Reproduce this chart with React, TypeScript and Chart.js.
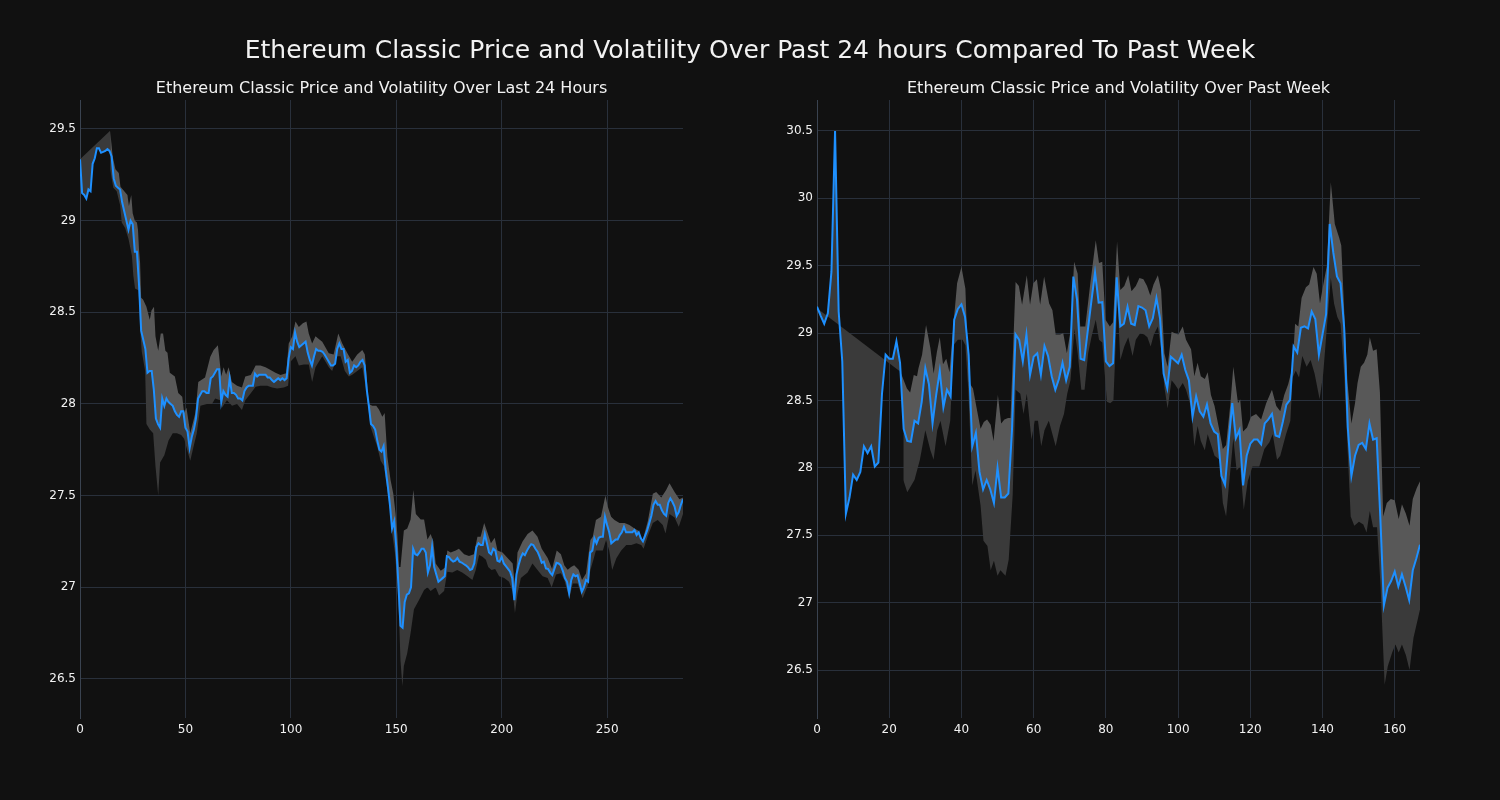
import React, { useEffect, useRef } from 'react';
import { Chart, registerables } from 'chart.js';

Chart.register(...registerables);

// ---------- Data: last 24 hours (5-minute steps) ----------
const price24 = [
  29.335, 29.15, 29.14, 29.12, 29.17, 29.16, 29.31, 29.34, 29.395, 29.395,
  29.37, 29.375, 29.38, 29.39, 29.38, 29.35, 29.23, 29.19, 29.18, 29.17,
  29.10, 29.05, 29.00, 28.95, 29.00, 28.98, 28.83, 28.83, 28.65, 28.40,
  28.35, 28.30, 28.17, 28.18, 28.18, 28.08, 27.92, 27.89, 27.87, 28.03,
  27.99, 28.03, 28.01, 28.00, 27.99, 27.96, 27.94, 27.93, 27.96, 27.96,
  27.87, 27.85, 27.76, 27.82, 27.86, 27.92, 28.03, 28.05, 28.07, 28.07,
  28.06, 28.06, 28.14, 28.15, 28.17, 28.19, 28.19, 28.01, 28.07, 28.05,
  28.04, 28.14, 28.06, 28.06, 28.05, 28.03, 28.03, 28.02, 28.07, 28.09,
  28.10, 28.10, 28.10, 28.165, 28.15, 28.16, 28.16, 28.16, 28.16, 28.145,
  28.145, 28.13, 28.12, 28.13, 28.14, 28.13, 28.14, 28.13, 28.14, 28.25,
  28.31, 28.30, 28.39, 28.34, 28.31, 28.32, 28.33, 28.34, 28.28, 28.24,
  28.21, 28.26, 28.30, 28.29, 28.29, 28.285, 28.27, 28.25, 28.23, 28.21,
  28.21, 28.22, 28.30, 28.33, 28.30, 28.30, 28.23, 28.24, 28.17, 28.18,
  28.21, 28.20, 28.21, 28.23, 28.24, 28.21, 28.08, 27.99, 27.89, 27.88,
  27.86, 27.80, 27.75, 27.74, 27.77, 27.64, 27.55, 27.45, 27.32, 27.36,
  27.22, 27.02, 26.79, 26.78, 26.92, 26.96, 26.967, 27.00, 27.21, 27.18,
  27.175, 27.19, 27.21, 27.21, 27.19, 27.08, 27.12, 27.22, 27.11, 27.07,
  27.03, 27.04, 27.05, 27.06, 27.17, 27.165, 27.15, 27.14, 27.145, 27.16,
  27.14, 27.135, 27.127, 27.12, 27.11, 27.094, 27.10, 27.13, 27.22, 27.24,
  27.23, 27.23, 27.29, 27.24, 27.19, 27.18, 27.21, 27.20, 27.145, 27.14,
  27.165, 27.13, 27.115, 27.10, 27.085, 27.05, 26.93, 27.07, 27.12, 27.16,
  27.185, 27.175, 27.20, 27.22, 27.235, 27.23, 27.21, 27.194, 27.167, 27.134,
  27.14, 27.103, 27.10, 27.08, 27.067, 27.10, 27.134, 27.13, 27.12, 27.09,
  27.05, 27.03, 26.967, 27.04, 27.07, 27.06, 27.065, 27.02, 26.975, 27.00,
  27.04, 27.03, 27.19, 27.20, 27.267, 27.24, 27.27, 27.275, 27.275, 27.385,
  27.34, 27.30, 27.24, 27.25, 27.26, 27.26, 27.285, 27.30, 27.33, 27.30,
  27.30, 27.30, 27.30, 27.312, 27.285, 27.30, 27.267, 27.25, 27.28, 27.31,
  27.35, 27.39, 27.45, 27.47, 27.45, 27.45, 27.42, 27.40, 27.39, 27.46,
  27.485, 27.465, 27.44, 27.39, 27.41, 27.45, 27.48,
];

// volatility band edges as [index, value]
const upper24: [number, number][] = [
  [0, 29.335], [14.3, 29.49], [15.5, 29.35], [16.8, 29.28], [18.4, 29.26], [19.2, 29.185],
  [21.2, 29.158], [22.5, 29.14], [23.2, 29.08], [24.3, 29.14], [25, 29.04], [26, 29.0],
  [27, 28.99], [27.5, 28.95], [28, 28.84], [28.5, 28.77], [29, 28.58], [29.9, 28.57],
  [31.5, 28.53], [33.1, 28.46], [33.9, 28.51], [35.1, 28.53], [35.8, 28.37], [37.1, 28.29],
  [38.3, 28.385], [39.4, 28.385], [40.5, 28.29], [41.5, 28.28], [42.6, 28.17], [45, 28.15],
  [46.6, 28.06], [48.5, 28.04], [49.4, 27.95], [50.5, 27.98], [52.3, 27.84], [54.7, 27.95],
  [56.1, 28.12], [59.3, 28.145], [61.8, 28.258], [63.4, 28.294], [65.4, 28.32], [66, 28.26],
  [67, 28.15], [68.1, 28.2], [69.3, 28.16], [70.5, 28.2], [72, 28.12], [74.5, 28.1],
  [76.8, 28.09], [78.4, 28.15], [81, 28.158], [83.3, 28.21], [85.6, 28.21], [88, 28.2],
  [90.4, 28.185], [92.7, 28.17], [95.1, 28.158], [97.8, 28.167], [99, 28.33], [100.6, 28.367],
  [102.2, 28.45], [103.8, 28.42], [105.7, 28.44], [107.4, 28.45], [108.5, 28.385], [110.1, 28.33],
  [111.7, 28.37], [113.7, 28.35], [114.9, 28.34], [118, 28.276], [120.3, 28.27], [122.5, 28.385],
  [124.4, 28.33], [126.7, 28.28], [129.1, 28.23], [131.5, 28.27], [133.9, 28.294], [135.1, 28.27],
  [137, 28.0], [138.6, 27.99], [140.5, 27.99], [141.8, 27.97], [143.4, 27.93], [144.5, 27.95],
  [145.8, 27.71], [147.3, 27.585], [148.6, 27.51], [149.7, 27.40], [150.5, 27.29], [151.3, 27.11],
  [152, 27.11], [153.6, 27.31], [155.2, 27.32], [156.8, 27.37], [158.1, 27.53], [159.3, 27.40],
  [161.6, 27.37], [163.2, 27.37], [164.8, 27.26], [166.3, 27.29], [167.6, 27.25], [168.7, 27.13],
  [171.1, 27.09], [173.5, 27.11], [174.2, 27.2], [175.8, 27.19], [178.2, 27.2], [179.7, 27.21],
  [182.2, 27.18], [184.5, 27.17], [186.8, 27.18], [188.5, 27.276], [190, 27.276], [191.7, 27.35],
  [193.2, 27.30], [194.9, 27.24], [196.7, 27.27], [198, 27.2], [200.4, 27.19], [202.8, 27.16],
  [205.2, 27.13], [206.4, 27.0], [207.5, 27.19], [209.9, 27.25], [212.3, 27.29], [214.6, 27.31],
  [217, 27.276], [219, 27.21], [221.8, 27.16], [223.9, 27.10], [226.1, 27.2], [228.1, 27.18],
  [229.7, 27.12], [231.3, 27.095], [232.9, 27.11], [234.4, 27.12], [236.5, 27.095], [238.1, 27.04],
  [240, 27.075], [242.1, 27.258], [243.2, 27.276], [244.7, 27.367], [247.1, 27.385], [249.2, 27.50],
  [250.3, 27.44], [251.9, 27.385], [253.5, 27.367], [255.9, 27.35], [258.3, 27.35], [260.6, 27.34],
  [263, 27.32], [264.6, 27.31], [266.9, 27.258], [269.3, 27.36], [271.7, 27.51], [273.3, 27.52],
  [275.7, 27.49], [278, 27.53], [279.6, 27.567], [282, 27.52], [284.3, 27.48], [286, 27.49],
];

const lower24: [number, number][] = [
  [14.3, 29.28], [15.8, 29.18], [17.4, 29.16], [19, 29.085], [19.8, 28.99], [21.4, 28.96],
  [23, 28.90], [24.6, 28.81], [25.3, 28.70], [26.1, 28.63], [27.7, 28.62], [28.2, 28.52],
  [28.5, 28.41], [29.3, 28.285], [30.9, 28.18], [31.5, 27.89], [33.1, 27.86], [34.7, 27.84],
  [35.8, 27.66], [37.1, 27.50], [38, 27.68], [40, 27.72], [42, 27.80], [44, 27.84],
  [46, 27.84], [48, 27.83], [49.4, 27.81], [51.3, 27.73], [52.3, 27.69], [53.7, 27.76],
  [55.4, 27.84], [57.1, 27.99], [60.2, 28.0], [62.6, 28.0], [64.1, 28.03], [66.5, 28.02],
  [67.3, 27.98], [69.7, 28.02], [72.1, 27.99], [74.5, 28.0], [76.8, 27.967], [78.4, 28.02],
  [81, 28.058], [83.3, 28.094], [85.6, 28.10], [88.8, 28.10], [91.1, 28.09], [93.5, 28.085],
  [96.7, 28.09], [98.7, 28.10], [99.8, 28.23], [102.2, 28.26], [103.8, 28.21], [106.2, 28.215],
  [108.5, 28.215], [110.1, 28.12], [111.7, 28.2], [114.9, 28.26], [118, 28.20], [119.6, 28.18],
  [122, 28.26], [123.6, 28.26], [125.6, 28.18], [127.5, 28.15], [129.1, 28.16], [131.5, 28.18],
  [133.9, 28.2], [135.5, 28.094], [137.8, 27.876], [139.4, 27.82], [141, 27.767], [142.6, 27.69],
  [144.2, 27.66], [145.3, 27.567], [146.9, 27.44], [148.1, 27.29], [149.4, 27.185], [150.5, 27.02],
  [151.3, 26.84], [152, 26.60], [152.9, 26.46], [153.6, 26.57], [155.2, 26.64], [156.8, 26.75],
  [158.4, 26.88], [160.8, 26.93], [163.2, 26.985], [164.8, 27.0], [166.3, 26.98], [168.7, 27.0],
  [170.3, 26.955], [172.7, 26.98], [174.2, 27.085], [176.6, 27.08], [178.9, 27.094], [181.3, 27.08],
  [183.8, 27.06], [186.1, 27.04], [187.7, 27.094], [189.3, 27.176], [190.9, 27.167], [192.5, 27.15],
  [193.6, 27.11], [195.2, 27.094], [196.9, 27.1], [198.8, 27.06], [201.2, 27.05], [203.5, 27.03],
  [205.2, 26.976], [206.3, 26.86], [207.5, 26.965], [209.1, 27.05], [212.3, 27.08], [214.6, 27.13],
  [217, 27.094], [219.4, 27.06], [221.8, 27.05], [223.7, 27.0], [225.8, 27.07], [228.1, 27.076],
  [229.7, 27.04], [232.1, 26.94], [233.7, 27.02], [236, 27.02], [238.4, 26.94], [240.8, 27.01],
  [242.1, 27.094], [243.5, 27.15], [244.7, 27.20], [248, 27.20], [249.5, 27.258], [251, 27.2],
  [252.4, 27.094], [254.4, 27.158], [256.7, 27.2], [259.1, 27.23], [261.5, 27.23], [263.9, 27.24],
  [266.2, 27.23], [267.3, 27.21], [269.3, 27.28], [271.7, 27.35], [274, 27.367], [276.4, 27.34],
  [277.7, 27.294], [279.6, 27.40], [282, 27.38], [284, 27.33], [286, 27.40],
];

const xTicks24 = [0, 50, 100, 150, 200, 250];
const xTickLabels24 = ['0', '50', '100', '150', '200', '250'];
const yTicks24 = [26.5, 27, 27.5, 28, 28.5, 29, 29.5];
const yTickLabels24 = ['26.5', '27', '27.5', '28', '28.5', '29', '29.5'];

// ---------- Data: past week (hourly steps) ----------
const price7 = [
  29.196, 29.13, 29.07, 29.147, 29.456, 30.5, 29.16, 28.79, 27.66, 27.78,
  27.95, 27.91, 27.97, 28.16, 28.11, 28.16, 28.01, 28.04, 28.55, 28.84,
  28.81, 28.81, 28.94, 28.78, 28.29, 28.20, 28.194, 28.35, 28.33, 28.49,
  28.74, 28.62, 28.33, 28.54, 28.72, 28.45, 28.58, 28.53, 29.10, 29.18,
  29.214, 29.12, 28.84, 28.16, 28.26, 27.97, 27.84, 27.91, 27.84, 27.74,
  28.0, 27.78, 27.78, 27.81, 28.28, 28.99, 28.95, 28.79, 28.99, 28.69,
  28.825, 28.85, 28.69, 28.905, 28.83, 28.68, 28.58, 28.66, 28.78, 28.65,
  28.75, 29.42, 29.25, 28.81, 28.80, 29.02, 29.24, 29.45, 29.226, 29.23,
  28.79, 28.756, 28.776, 29.414, 29.05, 29.07, 29.196, 29.07, 29.06, 29.20,
  29.19, 29.17, 29.05, 29.11, 29.26, 29.11, 28.70, 28.59, 28.825, 28.80,
  28.776, 28.84, 28.726, 28.65, 28.38, 28.53, 28.42, 28.38, 28.47, 28.33,
  28.27, 28.25, 27.94, 27.875, 28.19, 28.48, 28.22, 28.28, 27.87, 28.09,
  28.18, 28.21, 28.21, 28.175, 28.33, 28.36, 28.40, 28.24, 28.23, 28.34,
  28.47, 28.505, 28.90, 28.855, 29.04, 29.05, 29.035, 29.16, 29.105, 28.84,
  28.99, 29.14, 29.81, 29.595, 29.42, 29.37, 29.04, 28.30, 27.94, 28.09,
  28.17, 28.185, 28.14, 28.33, 28.21, 28.22, 27.64, 26.98, 27.11, 27.16,
  27.23, 27.12, 27.21, 27.12, 27.02, 27.24, 27.33, 27.43,
];

const upper7: [number, number][] = [
  [0, 29.184], [23.1, 28.714], [24.9, 28.59], [25.8, 28.56], [26.8, 28.69], [27.7, 28.68],
  [28.1, 28.74], [29.1, 28.84], [30.2, 29.06], [31.4, 28.89], [32.3, 28.70], [33.2, 28.86],
  [34, 28.97], [34.9, 28.77], [35.8, 28.81], [36.7, 28.71], [37.7, 29.036], [38.8, 29.37],
  [40, 29.49], [41.1, 29.33], [42, 28.64], [43.2, 28.59], [44.1, 28.46], [45.3, 28.29],
  [46.2, 28.34], [47.1, 28.36], [48.1, 28.32], [48.9, 28.2], [50.1, 28.54], [51, 28.33],
  [51.9, 28.36], [52.9, 28.37], [53.6, 28.37], [55, 29.38], [55.9, 29.35], [56.8, 29.21],
  [58.1, 29.43], [59, 29.21], [59.9, 29.37], [60.9, 29.40], [61.8, 29.21], [62.9, 29.42],
  [64.3, 29.22], [65.2, 29.17], [66.1, 28.99], [67.3, 28.99], [68.2, 29.0], [69.2, 28.85],
  [70.3, 29.03], [71.2, 29.53], [72.2, 29.44], [72.9, 29.05], [74.3, 29.05], [75.7, 29.37],
  [77.2, 29.69], [78.1, 29.52], [79, 29.53], [79.9, 29.10], [81.1, 29.05], [82, 29.08],
  [83.1, 29.68], [84, 29.32], [85.1, 29.35], [86.2, 29.43], [87.1, 29.31], [88.3, 29.35],
  [89.3, 29.41], [90.4, 29.40], [91.4, 29.35], [92.3, 29.28], [93.2, 29.36], [94.4, 29.43],
  [95.3, 29.32], [96.2, 28.85], [97.1, 28.75], [98.2, 29.01], [99.1, 29.0], [100.1, 28.99],
  [101.3, 29.05], [102.2, 28.95], [103.6, 28.88], [104.5, 28.68], [105.4, 28.78], [106.3, 28.68],
  [107.4, 28.66], [108.2, 28.71], [109.1, 28.54], [110.1, 28.46], [111.5, 28.27], [112.4, 28.14],
  [113.3, 28.17], [114.5, 28.48], [115.3, 28.75], [116.6, 28.48], [117.2, 28.51], [118, 28.27],
  [119.1, 28.30], [120.2, 28.38], [121.6, 28.40], [123, 28.36], [124.4, 28.48], [126, 28.58],
  [127.2, 28.46], [128.3, 28.42], [129.4, 28.54], [130.5, 28.62], [131.7, 28.75], [132.4, 29.07],
  [133.3, 29.05], [134.2, 29.26], [135.4, 29.34], [136.3, 29.36], [137.5, 29.49], [138.4, 29.44],
  [139.3, 29.22], [140, 29.33], [141.2, 29.50], [142.3, 30.12], [143.4, 29.81], [144.6, 29.71],
  [145.2, 29.65], [146, 29.17], [146.9, 28.64], [148, 28.33], [149, 28.48], [149.7, 28.63],
  [150.6, 28.75], [151.5, 28.78], [152.4, 28.84], [153.1, 28.97], [154, 28.87], [155, 28.88],
  [155.9, 28.56], [156.8, 27.64], [157.8, 27.74], [158.9, 27.77], [160, 27.76], [161.1, 27.62],
  [162, 27.73], [163.1, 27.66], [164.1, 27.57], [165, 27.77], [166.1, 27.85], [167, 27.90],
];

const lower7: [number, number][] = [
  [23.9, 27.91], [25, 27.82], [27, 27.91], [28.5, 28.06], [30, 28.28], [31.4, 28.13],
  [32.3, 28.06], [33.3, 28.28], [34.2, 28.35], [35.6, 28.16], [36.9, 28.35], [37.8, 28.91],
  [39, 28.95], [40.3, 28.95], [41.1, 28.91], [41.9, 28.58], [43, 27.87], [43.9, 27.98],
  [45.3, 27.72], [46.1, 27.46], [47.2, 27.42], [48.1, 27.24], [49, 27.31], [50, 27.20],
  [50.8, 27.24], [52.2, 27.20], [53.1, 27.32], [54.2, 27.80], [55, 28.58], [56.3, 28.55],
  [57.2, 28.40], [58.1, 28.55], [59.4, 28.21], [60.3, 28.35], [61.2, 28.35], [62.1, 28.16],
  [63, 28.28], [64.2, 28.35], [65.2, 28.25], [66.1, 28.16], [67.3, 28.31], [68.4, 28.40],
  [69.3, 28.55], [70.2, 28.65], [71.3, 29.03], [72.2, 28.85], [73.2, 28.58], [74.1, 28.58],
  [75.1, 28.85], [76, 28.97], [77.2, 29.1], [78.1, 28.95], [79, 28.93], [80.3, 28.49],
  [81.2, 28.48], [82.1, 28.50], [83.2, 29.25], [84, 28.80], [85.1, 28.90], [86.2, 28.97],
  [87.4, 28.83], [88.3, 28.95], [89.5, 29.0], [90.6, 28.99], [91.5, 28.97], [92.4, 28.90],
  [93.3, 28.99], [94.4, 29.05], [95.3, 28.88], [96.2, 28.60], [97.1, 28.44], [98.2, 28.65],
  [99.1, 28.62], [100.1, 28.58], [101.3, 28.63], [102.2, 28.58], [103.6, 28.45], [104.5, 28.16],
  [105.4, 28.31], [106.3, 28.20], [107.4, 28.13], [108.2, 28.25], [110.1, 28.09], [111.5, 28.06],
  [112.4, 27.74], [113.3, 27.64], [114.2, 27.90], [115.3, 28.22], [116.2, 27.98], [117.2, 28.01],
  [118.2, 27.69], [119.3, 27.90], [120.6, 28.01], [122.5, 28.01], [123.9, 28.14], [125.3, 28.19],
  [126.2, 28.25], [127.4, 28.06], [128.3, 28.09], [129.9, 28.25], [131.1, 28.35], [131.7, 28.67],
  [132.6, 28.72], [133.5, 28.67], [134.4, 28.83], [135.6, 28.75], [136.7, 28.80], [137.8, 28.70],
  [139.2, 28.51], [140.2, 28.70], [141.2, 29.04], [142.3, 29.41], [143.2, 29.22], [144.1, 29.12],
  [145, 29.07], [146, 28.70], [146.9, 28.17], [147.8, 27.64], [148.8, 27.57], [150.1, 27.60],
  [151.3, 27.58], [152.2, 27.52], [153.1, 27.68], [154, 27.56], [155.1, 27.56], [156.1, 27.11],
  [157.2, 26.39], [158.1, 26.53], [159.3, 26.63], [160.2, 26.69], [161.1, 26.63], [162, 26.69],
  [163.1, 26.61], [164.1, 26.50], [165.2, 26.74], [167, 26.95],
];

const xTicks7 = [0, 20, 40, 60, 80, 100, 120, 140, 160];
const xTickLabels7 = ['0', '20', '40', '60', '80', '100', '120', '140', '160'];
const yTicks7 = [26.5, 27, 27.5, 28, 28.5, 29, 29.5, 30, 30.5];
const yTickLabels7 = ['26.5', '27', '27.5', '28', '28.5', '29', '29.5', '30', '30.5'];

const suptitle = 'Ethereum Classic Price and Volatility Over Past 24 hours Compared To Past Week';
const title24 = 'Ethereum Classic Price and Volatility Over Last 24 Hours';
const title7 = 'Ethereum Classic Price and Volatility Over Past Week';

// ---------- Styles ----------
const BG = '#111111';
const GRID = '#29303b';
const SPINE = '#3a4350';
const TEXT = '#f2f2f2';
const BLUE = '#1e90ff';
const BAND_LIGHT = '#585858';
const BAND_DARK = '#3a3a3a';
const FONT = '"DejaVu Sans", sans-serif';

type PanelProps = {
  price: number[];
  upper: [number, number][];
  lower: [number, number][];
  xTicks: number[];
  xLabels: string[];
  yTicks: number[];
  yLabels: string[];
  xMax: number;
  yMin: number;
  yMax: number;
  yAxisWidth: number;
  padRight: number;
  left: number;
};

function Panel(p: PanelProps) {
  const ref = useRef<HTMLCanvasElement>(null);
  useEffect(() => {
    const toPts = (arr: [number, number][]) => arr.map(([x, y]) => ({ x, y }));
    const bandBase = {
      borderWidth: 0,
      borderColor: 'rgba(0,0,0,0)',
      pointRadius: 0,
      pointHitRadius: 0,
    };
    const chart = new Chart(ref.current as HTMLCanvasElement, {
      type: 'line',
      data: {
        datasets: [
          {
            data: p.price.map((y, i) => ({ x: i, y })),
            borderColor: BLUE,
            borderWidth: 2,
            pointRadius: 0,
            pointHitRadius: 0,
            fill: false,
          },
          {
            ...bandBase,
            data: toPts(p.upper.slice(0, 2)),
            backgroundColor: BAND_DARK,
            fill: { target: 0 },
          },
          {
            ...bandBase,
            data: toPts(p.upper.slice(1)),
            backgroundColor: BAND_LIGHT,
            fill: { target: 0 },
          },
          {
            ...bandBase,
            data: toPts(p.lower),
            backgroundColor: BAND_DARK,
            fill: { target: 0 },
          },
        ],
      } as any,
      options: {
        animation: false,
        responsive: false,
        maintainAspectRatio: false,
        events: [],
        layout: { padding: { left: 0, right: p.padRight, top: 100, bottom: 0 } },
        plugins: {
          legend: { display: false },
          tooltip: { enabled: false },
          title: { display: false },
        },
        scales: {
          x: {
            type: 'linear',
            min: 0,
            max: p.xMax,
            afterBuildTicks: (ax: any) => {
              ax.ticks = p.xTicks.map((v) => ({ value: v }));
            },
            afterFit: (ax: any) => {
              ax.height = 82;
            },
            grid: { color: GRID, lineWidth: 1, drawTicks: false },
            border: { display: false },
            ticks: {
              color: TEXT,
              font: { family: FONT, size: 12 },
              padding: 5,
              maxRotation: 0,
              autoSkip: false,
              callback: (_v: any, i: number) => p.xLabels[i],
            },
          },
          y: {
            type: 'linear',
            min: p.yMin,
            max: p.yMax,
            afterBuildTicks: (ax: any) => {
              ax.ticks = p.yTicks.map((v) => ({ value: v }));
            },
            afterFit: (ax: any) => {
              ax.width = p.yAxisWidth;
            },
            grid: { color: GRID, lineWidth: 1, drawTicks: false },
            border: { display: true, color: SPINE, width: 1 },
            ticks: {
              color: TEXT,
              font: { family: FONT, size: 12 },
              padding: 4,
              autoSkip: false,
              callback: (_v: any, i: number) => p.yLabels[i],
            },
          },
        },
      } as any,
    });
    return () => chart.destroy();
  }, []);
  return (
    <canvas
      ref={ref}
      width={750}
      height={800}
      style={{ position: 'absolute', left: p.left, top: 0, width: 750, height: 800 }}
    />
  );
}

export default function App() {
  return (
    <div
      style={{
        position: 'fixed',
        left: 0,
        top: 0,
        width: 1500,
        height: 800,
        background: BG,
        overflow: 'hidden',
        fontFamily: FONT,
      }}
    >
      <Panel
        price={price24}
        upper={upper24}
        lower={lower24}
        xTicks={xTicks24}
        xLabels={xTickLabels24}
        yTicks={yTicks24}
        yLabels={yTickLabels24}
        xMax={286}
        yMin={26.287}
        yMax={29.658}
        yAxisWidth={80}
        padRight={67}
        left={0}
      />
      <Panel
        price={price7}
        upper={upper7}
        lower={lower7}
        xTicks={xTicks7}
        xLabels={xTickLabels7}
        yTicks={yTicks7}
        yLabels={yTickLabels7}
        xMax={167}
        yMin={26.144}
        yMax={30.73}
        yAxisWidth={67}
        padRight={80}
        left={750}
      />
      <div
        style={{
          position: 'absolute',
          left: 0,
          top: 35,
          width: 1500,
          textAlign: 'center',
          color: TEXT,
          fontSize: 25,
          lineHeight: '30px',
          whiteSpace: 'nowrap',
        }}
      >
        {suptitle}
      </div>
      <div
        style={{
          position: 'absolute',
          left: 80,
          top: 78,
          width: 603,
          textAlign: 'center',
          color: TEXT,
          fontSize: 16,
          lineHeight: '20px',
          whiteSpace: 'nowrap',
        }}
      >
        {title24}
      </div>
      <div
        style={{
          position: 'absolute',
          left: 817,
          top: 78,
          width: 603,
          textAlign: 'center',
          color: TEXT,
          fontSize: 16,
          lineHeight: '20px',
          whiteSpace: 'nowrap',
        }}
      >
        {title7}
      </div>
    </div>
  );
}
